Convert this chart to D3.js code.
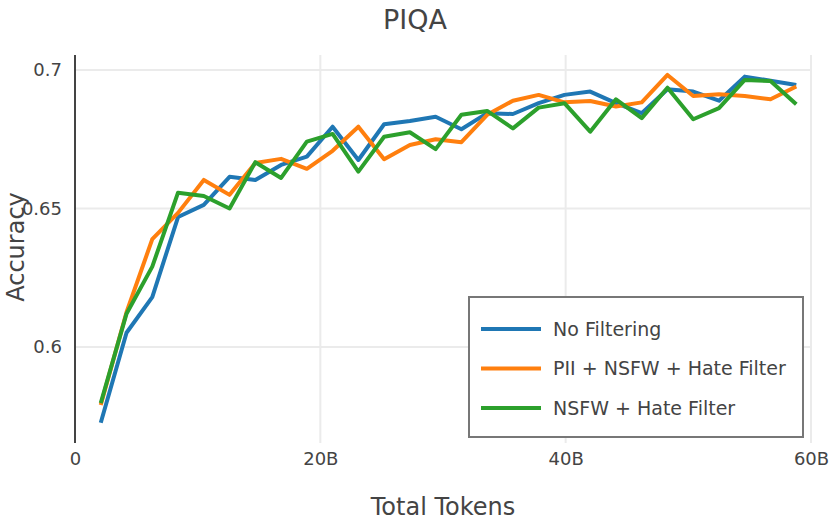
<!DOCTYPE html>
<html>
<head>
<meta charset="utf-8">
<script src="https://cdn.jsdelivr.net/npm/d3@7"></script>
<style>
  html, body { margin: 0; padding: 0; background: #fff; }
  svg { display: block; font-family: "DejaVu Sans", Verdana, sans-serif; }
</style>
</head>
<body>
<svg id="chart" width="830" height="520"></svg>
<script>
// Tokens (in billions) at each evaluation step
const tokens = [2.1, 4.2, 6.3, 8.4, 10.5, 12.6, 14.7, 16.8, 18.9, 21.0, 23.1, 25.2, 27.3, 29.4,
                31.5, 33.6, 35.7, 37.8, 39.9, 42.0, 44.1, 46.2, 48.3, 50.4, 52.5, 54.6, 56.7, 58.8];

const noFiltering = [0.5726, 0.6051, 0.6180, 0.6469, 0.6513, 0.6614, 0.6603, 0.6657, 0.6687, 0.6795,
                     0.6675, 0.6804, 0.6816, 0.6831, 0.6786, 0.6844, 0.6841, 0.6880, 0.6910, 0.6922,
                     0.6880, 0.6844, 0.6930, 0.6922, 0.6889, 0.6976, 0.6961, 0.6946];

const piiNsfwHate = [0.5790, 0.6125, 0.6389, 0.6484, 0.6603, 0.6549, 0.6664, 0.6679, 0.6643, 0.6708,
                     0.6795, 0.6678, 0.6729, 0.6750, 0.6739, 0.6838, 0.6889, 0.6910, 0.6883, 0.6888,
                     0.6868, 0.6883, 0.6982, 0.6906, 0.6912, 0.6906, 0.6894, 0.6940];

const nsfwHate = [0.5797, 0.6120, 0.6290, 0.6557, 0.6545, 0.6500, 0.6667, 0.6610, 0.6741, 0.6769,
                  0.6633, 0.6759, 0.6775, 0.6714, 0.6838, 0.6852, 0.6789, 0.6864, 0.6880, 0.6777,
                  0.6894, 0.6826, 0.6936, 0.6822, 0.6862, 0.6964, 0.6960, 0.6876];

const seriesNames = ["No Filtering", "PII + NSFW + Hate Filter", "NSFW + Hate Filter"];
const seriesColors = ["#1f77b4", "#ff7f0e", "#2ca02c"];
const xTicks = [0, 20, 40, 60];
const xTickLabels = ["0", "20B", "40B", "60B"];
const yTicks = [0.6, 0.65, 0.7];
const yTickLabels = ["0.6", "0.65", "0.7"];

const series = [noFiltering, piiNsfwHate, nsfwHate];

const svg = d3.select("#chart");
const mLeft = 75, mRight = 811, mTop = 55, mBottom = 443;
const fontFam = "DejaVu Sans, Verdana, sans-serif";

const x = d3.scaleLinear().domain([0, 60]).range([mLeft, mRight]);
const y = d3.scaleLinear().domain([0.5653, 0.7054]).range([mBottom, mTop]);

const textColor = "#444";

// Gridlines
svg.append("g").selectAll("line").data(yTicks).join("line")
  .attr("x1", mLeft).attr("x2", mRight)
  .attr("y1", d => y(d)).attr("y2", d => y(d))
  .attr("stroke", "#ebebeb").attr("stroke-width", 2);
svg.append("g").selectAll("line").data(xTicks.filter(d => d > 0)).join("line")
  .attr("x1", d => x(d)).attr("x2", d => x(d))
  .attr("y1", mTop).attr("y2", mBottom)
  .attr("stroke", "#ebebeb").attr("stroke-width", 2);

// Y axis
const yAxis = d3.axisLeft(y).tickValues(yTicks).tickFormat((d, i) => yTickLabels[i]).tickSize(0).tickPadding(13);
const gy = svg.append("g").attr("transform", `translate(${mLeft},0)`).call(yAxis)
  .attr("font-size", 18).attr("font-family", fontFam);
gy.select(".domain").remove();
gy.selectAll("text").attr("fill", textColor);
svg.append("line").attr("x1", mLeft).attr("x2", mLeft).attr("y1", mTop).attr("y2", mBottom)
  .attr("stroke", "#444").attr("stroke-width", 2);

// X axis
const xAxis = d3.axisBottom(x).tickValues(xTicks).tickFormat((d, i) => xTickLabels[i]).tickSize(0).tickPadding(9);
const gx = svg.append("g").attr("transform", `translate(0,${mBottom})`).call(xAxis)
  .attr("font-size", 18).attr("font-family", fontFam);
gx.select(".domain").remove();
gx.selectAll("text").attr("fill", textColor);

// Lines
const line = d3.line().x((d, i) => x(tokens[i])).y(d => y(d));
series.forEach((s, k) => {
  svg.append("path").datum(s)
    .attr("d", line)
    .attr("fill", "none")
    .attr("stroke", seriesColors[k])
    .attr("stroke-width", 4)
    .attr("stroke-linejoin", "round");
});

// Title and axis titles
svg.append("text").attr("x", 415).attr("y", 29).attr("text-anchor", "middle")
  .attr("fill", textColor).style("font-size", "27px").text("PIQA");
svg.append("text").attr("x", 443).attr("y", 515).attr("text-anchor", "middle")
  .attr("fill", textColor).style("font-size", "24px").text("Total Tokens");
svg.append("text").attr("transform", `translate(24,247) rotate(-90)`).attr("text-anchor", "middle")
  .attr("fill", textColor).style("font-size", "24px").text("Accuracy");

// Legend
const lg = svg.append("g").attr("transform", "translate(469,297)");
lg.append("rect").attr("x", 0).attr("y", 0).attr("width", 334).attr("height", 140)
  .attr("fill", "#fff").attr("stroke", "#777").attr("stroke-width", 2);
seriesNames.forEach((n, k) => {
  const yy = 32 + k * 39.5;
  lg.append("line").attr("x1", 12).attr("x2", 72).attr("y1", yy).attr("y2", yy)
    .attr("stroke", seriesColors[k]).attr("stroke-width", 4);
  lg.append("text").attr("x", 84).attr("y", yy).attr("dy", "0.35em")
    .attr("fill", textColor).style("font-size", "19px").text(n);
});
</script>
</body>
</html>
